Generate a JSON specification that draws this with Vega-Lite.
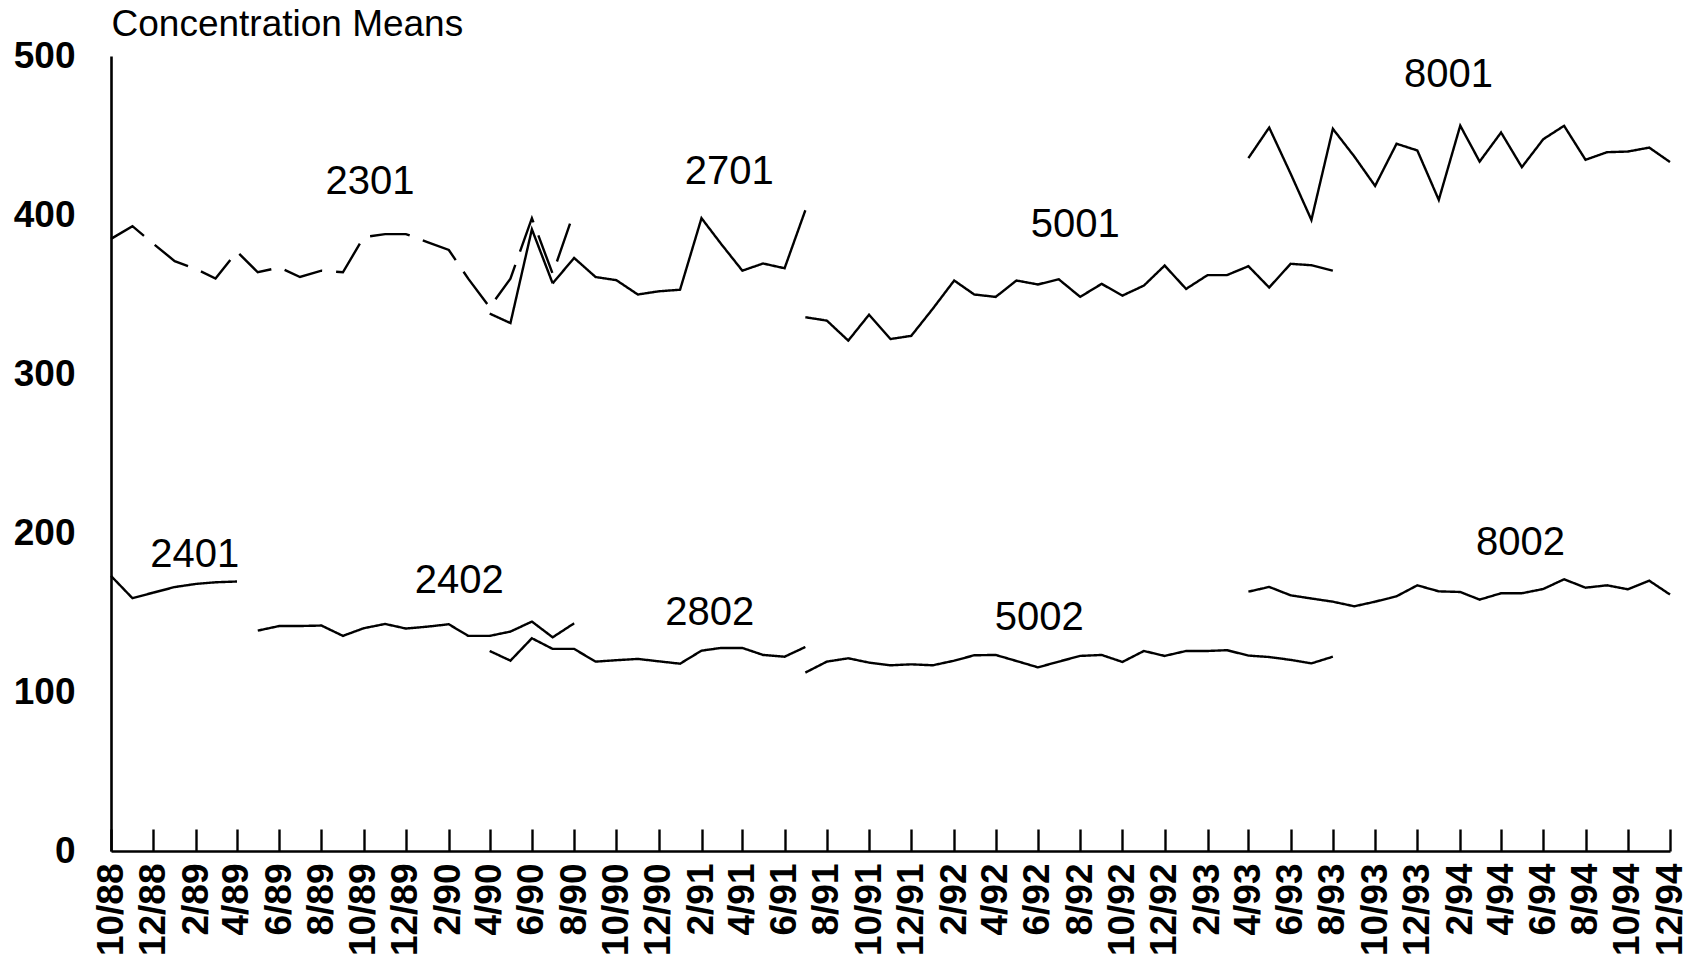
{
  "$schema": "https://vega.github.io/schema/vega-lite/v6.json",
  "width": 1559,
  "height": 795,
  "autosize": "none",
  "padding": {"left": 111, "top": 56, "right": 21, "bottom": 117},
  "background": "white",
  "config": {
    "view": {"stroke": null},
    "font": "Liberation Sans"
  },
  "layer": [
    {
      "data": {
        "values": [
          {"series": "2301", "date": "1988-10-01", "value": 385},
          {"series": "2301", "date": "1988-11-01", "value": 393},
          {"series": "2301", "date": "1988-12-01", "value": 382},
          {"series": "2301", "date": "1989-01-01", "value": 371},
          {"series": "2301", "date": "1989-02-01", "value": 366},
          {"series": "2301", "date": "1989-03-01", "value": 360},
          {"series": "2301", "date": "1989-04-01", "value": 377},
          {"series": "2301", "date": "1989-05-01", "value": 364},
          {"series": "2301", "date": "1989-06-01", "value": 367},
          {"series": "2301", "date": "1989-07-01", "value": 361},
          {"series": "2301", "date": "1989-08-01", "value": 365},
          {"series": "2301", "date": "1989-09-01", "value": 364},
          {"series": "2301", "date": "1989-10-01", "value": 386},
          {"series": "2301", "date": "1989-11-01", "value": 388},
          {"series": "2301", "date": "1989-12-01", "value": 388},
          {"series": "2301", "date": "1990-01-01", "value": 383},
          {"series": "2301", "date": "1990-02-01", "value": 378},
          {"series": "2301", "date": "1990-03-01", "value": 360},
          {"series": "2301", "date": "1990-04-01", "value": 342},
          {"series": "2301", "date": "1990-05-01", "value": 360},
          {"series": "2301", "date": "1990-06-01", "value": 398},
          {"series": "2301", "date": "1990-07-01", "value": 363},
          {"series": "2301", "date": "1990-08-01", "value": 402},

          {"series": "2401", "date": "1988-10-01", "value": 173},
          {"series": "2401", "date": "1988-11-01", "value": 159},
          {"series": "2401", "date": "1988-12-01", "value": 162.5},
          {"series": "2401", "date": "1989-01-01", "value": 166},
          {"series": "2401", "date": "1989-02-01", "value": 168},
          {"series": "2401", "date": "1989-03-01", "value": 169},
          {"series": "2401", "date": "1989-04-01", "value": 169.5},

          {"series": "2402", "date": "1989-05-01", "value": 138.6},
          {"series": "2402", "date": "1989-06-01", "value": 141.5},
          {"series": "2402", "date": "1989-07-01", "value": 141.5},
          {"series": "2402", "date": "1989-08-01", "value": 141.8},
          {"series": "2402", "date": "1989-09-01", "value": 135.3},
          {"series": "2402", "date": "1989-10-01", "value": 140.1},
          {"series": "2402", "date": "1989-11-01", "value": 142.8},
          {"series": "2402", "date": "1989-12-01", "value": 139.9},
          {"series": "2402", "date": "1990-01-01", "value": 141.1},
          {"series": "2402", "date": "1990-02-01", "value": 142.6},
          {"series": "2402", "date": "1990-03-01", "value": 135.3},
          {"series": "2402", "date": "1990-04-01", "value": 135.3},
          {"series": "2402", "date": "1990-05-01", "value": 138},
          {"series": "2402", "date": "1990-06-01", "value": 144.3},
          {"series": "2402", "date": "1990-07-01", "value": 134.4},
          {"series": "2402", "date": "1990-08-01", "value": 143.2},

          {"series": "2701", "date": "1990-04-01", "value": 338},
          {"series": "2701", "date": "1990-05-01", "value": 332},
          {"series": "2701", "date": "1990-06-01", "value": 391},
          {"series": "2701", "date": "1990-07-01", "value": 357},
          {"series": "2701", "date": "1990-08-01", "value": 373},
          {"series": "2701", "date": "1990-09-01", "value": 361},
          {"series": "2701", "date": "1990-10-01", "value": 359},
          {"series": "2701", "date": "1990-11-01", "value": 350},
          {"series": "2701", "date": "1990-12-01", "value": 352},
          {"series": "2701", "date": "1991-01-01", "value": 353},
          {"series": "2701", "date": "1991-02-01", "value": 398},
          {"series": "2701", "date": "1991-03-01", "value": 382},
          {"series": "2701", "date": "1991-04-01", "value": 365},
          {"series": "2701", "date": "1991-05-01", "value": 369.5},
          {"series": "2701", "date": "1991-06-01", "value": 366.5},
          {"series": "2701", "date": "1991-07-01", "value": 403},

          {"series": "2802", "date": "1990-04-01", "value": 125.8},
          {"series": "2802", "date": "1990-05-01", "value": 119.7},
          {"series": "2802", "date": "1990-06-01", "value": 133.8},
          {"series": "2802", "date": "1990-07-01", "value": 127.1},
          {"series": "2802", "date": "1990-08-01", "value": 127.1},
          {"series": "2802", "date": "1990-09-01", "value": 119.1},
          {"series": "2802", "date": "1990-10-01", "value": 120},
          {"series": "2802", "date": "1990-11-01", "value": 120.8},
          {"series": "2802", "date": "1990-12-01", "value": 119.3},
          {"series": "2802", "date": "1991-01-01", "value": 117.8},
          {"series": "2802", "date": "1991-02-01", "value": 126},
          {"series": "2802", "date": "1991-03-01", "value": 127.7},
          {"series": "2802", "date": "1991-04-01", "value": 127.7},
          {"series": "2802", "date": "1991-05-01", "value": 123.3},
          {"series": "2802", "date": "1991-06-01", "value": 122.2},
          {"series": "2802", "date": "1991-07-01", "value": 128.3},

          {"series": "5001", "date": "1991-07-01", "value": 335.7},
          {"series": "5001", "date": "1991-08-01", "value": 333.6},
          {"series": "5001", "date": "1991-09-01", "value": 321},
          {"series": "5001", "date": "1991-10-01", "value": 337.3},
          {"series": "5001", "date": "1991-11-01", "value": 322},
          {"series": "5001", "date": "1991-12-01", "value": 324},
          {"series": "5001", "date": "1992-01-01", "value": 341},
          {"series": "5001", "date": "1992-02-01", "value": 358.8},
          {"series": "5001", "date": "1992-03-01", "value": 350},
          {"series": "5001", "date": "1992-04-01", "value": 348.5},
          {"series": "5001", "date": "1992-05-01", "value": 358.8},
          {"series": "5001", "date": "1992-06-01", "value": 356.3},
          {"series": "5001", "date": "1992-07-01", "value": 359.6},
          {"series": "5001", "date": "1992-08-01", "value": 348.5},
          {"series": "5001", "date": "1992-09-01", "value": 356.7},
          {"series": "5001", "date": "1992-10-01", "value": 349.3},
          {"series": "5001", "date": "1992-11-01", "value": 355.6},
          {"series": "5001", "date": "1992-12-01", "value": 368.2},
          {"series": "5001", "date": "1993-01-01", "value": 353.5},
          {"series": "5001", "date": "1993-02-01", "value": 362.2},
          {"series": "5001", "date": "1993-03-01", "value": 362.2},
          {"series": "5001", "date": "1993-04-01", "value": 367.8},
          {"series": "5001", "date": "1993-05-01", "value": 354.4},
          {"series": "5001", "date": "1993-06-01", "value": 369.3},
          {"series": "5001", "date": "1993-07-01", "value": 368.4},
          {"series": "5001", "date": "1993-08-01", "value": 365},

          {"series": "5002", "date": "1991-07-01", "value": 112.2},
          {"series": "5002", "date": "1991-08-01", "value": 119.1},
          {"series": "5002", "date": "1991-09-01", "value": 121.2},
          {"series": "5002", "date": "1991-10-01", "value": 118.5},
          {"series": "5002", "date": "1991-11-01", "value": 116.8},
          {"series": "5002", "date": "1991-12-01", "value": 117.4},
          {"series": "5002", "date": "1992-01-01", "value": 116.8},
          {"series": "5002", "date": "1992-02-01", "value": 119.7},
          {"series": "5002", "date": "1992-03-01", "value": 123.1},
          {"series": "5002", "date": "1992-04-01", "value": 123.3},
          {"series": "5002", "date": "1992-05-01", "value": 119.5},
          {"series": "5002", "date": "1992-06-01", "value": 115.5},
          {"series": "5002", "date": "1992-07-01", "value": 119.1},
          {"series": "5002", "date": "1992-08-01", "value": 122.7},
          {"series": "5002", "date": "1992-09-01", "value": 123.3},
          {"series": "5002", "date": "1992-10-01", "value": 118.9},
          {"series": "5002", "date": "1992-11-01", "value": 125.8},
          {"series": "5002", "date": "1992-12-01", "value": 122.7},
          {"series": "5002", "date": "1993-01-01", "value": 125.8},
          {"series": "5002", "date": "1993-02-01", "value": 125.8},
          {"series": "5002", "date": "1993-03-01", "value": 126.3},
          {"series": "5002", "date": "1993-04-01", "value": 122.9},
          {"series": "5002", "date": "1993-05-01", "value": 122},
          {"series": "5002", "date": "1993-06-01", "value": 120.2},
          {"series": "5002", "date": "1993-07-01", "value": 118},
          {"series": "5002", "date": "1993-08-01", "value": 122.2},

          {"series": "8001", "date": "1993-04-01", "value": 435.8},
          {"series": "8001", "date": "1993-05-01", "value": 455},
          {"series": "8001", "date": "1993-06-01", "value": 426},
          {"series": "8001", "date": "1993-07-01", "value": 396.9},
          {"series": "8001", "date": "1993-08-01", "value": 454.2},
          {"series": "8001", "date": "1993-09-01", "value": 436.8},
          {"series": "8001", "date": "1993-10-01", "value": 418.3},
          {"series": "8001", "date": "1993-11-01", "value": 444.8},
          {"series": "8001", "date": "1993-12-01", "value": 440.6},
          {"series": "8001", "date": "1994-01-01", "value": 409.5},
          {"series": "8001", "date": "1994-02-01", "value": 456.2},
          {"series": "8001", "date": "1994-03-01", "value": 433.6},
          {"series": "8001", "date": "1994-04-01", "value": 451.9},
          {"series": "8001", "date": "1994-05-01", "value": 430.1},
          {"series": "8001", "date": "1994-06-01", "value": 447.7},
          {"series": "8001", "date": "1994-07-01", "value": 456.1},
          {"series": "8001", "date": "1994-08-01", "value": 434.7},
          {"series": "8001", "date": "1994-09-01", "value": 439.5},
          {"series": "8001", "date": "1994-10-01", "value": 439.9},
          {"series": "8001", "date": "1994-11-01", "value": 442.4},
          {"series": "8001", "date": "1994-12-01", "value": 433.3},

          {"series": "8002", "date": "1993-04-01", "value": 163.1},
          {"series": "8002", "date": "1993-05-01", "value": 166.1},
          {"series": "8002", "date": "1993-06-01", "value": 160.8},
          {"series": "8002", "date": "1993-07-01", "value": 158.8},
          {"series": "8002", "date": "1993-08-01", "value": 156.8},
          {"series": "8002", "date": "1993-09-01", "value": 153.9},
          {"series": "8002", "date": "1993-10-01", "value": 156.8},
          {"series": "8002", "date": "1993-11-01", "value": 160.2},
          {"series": "8002", "date": "1993-12-01", "value": 167.1},
          {"series": "8002", "date": "1994-01-01", "value": 163.3},
          {"series": "8002", "date": "1994-02-01", "value": 162.9},
          {"series": "8002", "date": "1994-03-01", "value": 158.1},
          {"series": "8002", "date": "1994-04-01", "value": 162.1},
          {"series": "8002", "date": "1994-05-01", "value": 162.1},
          {"series": "8002", "date": "1994-06-01", "value": 164.8},
          {"series": "8002", "date": "1994-07-01", "value": 170.9},
          {"series": "8002", "date": "1994-08-01", "value": 165.6},
          {"series": "8002", "date": "1994-09-01", "value": 167.1},
          {"series": "8002", "date": "1994-10-01", "value": 164.6},
          {"series": "8002", "date": "1994-11-01", "value": 170},
          {"series": "8002", "date": "1994-12-01", "value": 161.3}
        ]
      },
      "mark": {"type": "line", "color": "black", "strokeWidth": 2.4, "strokeJoin": "miter", "strokeCap": "butt", "clip": false},
      "encoding": {
        "x": {
          "field": "date",
          "type": "temporal",
          "scale": {
            "type": "utc",
            "domain": [
              {"year": 1988, "month": 10, "date": 1, "utc": true},
              {"year": 1994, "month": 12, "date": 1, "utc": true}
            ]
          },
          "axis": {
            "title": null,
            "format": "%-m/%y",
            "labelAngle": -90,
            "labelAlign": "right",
            "labelBaseline": "middle",
            "labelFontSize": 37,
            "labelFontWeight": "bold",
            "labelColor": "black",
            "labelPadding": 34,
            "labelOverlap": false,
            "labelFlush": false,
            "tickSize": -22,
            "tickWidth": 2.4,
            "tickColor": "black",
            "domainColor": "black",
            "domainWidth": 2.6,
            "grid": false,
            "values": [
              {"year": 1988, "month": 10, "date": 1, "utc": true},
              {"year": 1988, "month": 12, "date": 1, "utc": true},
              {"year": 1989, "month": 2, "date": 1, "utc": true},
              {"year": 1989, "month": 4, "date": 1, "utc": true},
              {"year": 1989, "month": 6, "date": 1, "utc": true},
              {"year": 1989, "month": 8, "date": 1, "utc": true},
              {"year": 1989, "month": 10, "date": 1, "utc": true},
              {"year": 1989, "month": 12, "date": 1, "utc": true},
              {"year": 1990, "month": 2, "date": 1, "utc": true},
              {"year": 1990, "month": 4, "date": 1, "utc": true},
              {"year": 1990, "month": 6, "date": 1, "utc": true},
              {"year": 1990, "month": 8, "date": 1, "utc": true},
              {"year": 1990, "month": 10, "date": 1, "utc": true},
              {"year": 1990, "month": 12, "date": 1, "utc": true},
              {"year": 1991, "month": 2, "date": 1, "utc": true},
              {"year": 1991, "month": 4, "date": 1, "utc": true},
              {"year": 1991, "month": 6, "date": 1, "utc": true},
              {"year": 1991, "month": 8, "date": 1, "utc": true},
              {"year": 1991, "month": 10, "date": 1, "utc": true},
              {"year": 1991, "month": 12, "date": 1, "utc": true},
              {"year": 1992, "month": 2, "date": 1, "utc": true},
              {"year": 1992, "month": 4, "date": 1, "utc": true},
              {"year": 1992, "month": 6, "date": 1, "utc": true},
              {"year": 1992, "month": 8, "date": 1, "utc": true},
              {"year": 1992, "month": 10, "date": 1, "utc": true},
              {"year": 1992, "month": 12, "date": 1, "utc": true},
              {"year": 1993, "month": 2, "date": 1, "utc": true},
              {"year": 1993, "month": 4, "date": 1, "utc": true},
              {"year": 1993, "month": 6, "date": 1, "utc": true},
              {"year": 1993, "month": 8, "date": 1, "utc": true},
              {"year": 1993, "month": 10, "date": 1, "utc": true},
              {"year": 1993, "month": 12, "date": 1, "utc": true},
              {"year": 1994, "month": 2, "date": 1, "utc": true},
              {"year": 1994, "month": 4, "date": 1, "utc": true},
              {"year": 1994, "month": 6, "date": 1, "utc": true},
              {"year": 1994, "month": 8, "date": 1, "utc": true},
              {"year": 1994, "month": 10, "date": 1, "utc": true},
              {"year": 1994, "month": 12, "date": 1, "utc": true}
            ]
          }
        },
        "y": {
          "field": "value",
          "type": "quantitative",
          "scale": {"domain": [0, 500], "nice": false, "zero": true},
          "axis": {
            "title": "Concentration Means",
            "titleAngle": 0,
            "titleAlign": "left",
            "titleBaseline": "alphabetic",
            "titleX": 0,
            "titleY": -21,
            "titleFontSize": 37,
            "titleFontWeight": "normal",
            "titleColor": "black",
            "values": [0, 100, 200, 300, 400, 500],
            "labelFontSize": 37,
            "labelFontWeight": "bold",
            "labelColor": "black",
            "labelPadding": 36,
            "labelFlush": false,
            "labelOverlap": false,
            "ticks": false,
            "domainColor": "black",
            "domainWidth": 2.6,
            "grid": false
          }
        },
        "detail": {"field": "series", "type": "nominal"},
        "strokeDash": {
          "field": "series",
          "type": "nominal",
          "legend": null,
          "scale": {
            "domain": ["2301", "2401", "2402", "2701", "2802", "5001", "5002", "8001", "8002"],
            "range": [[40, 14], [1, 0], [1, 0], [1, 0], [1, 0], [1, 0], [1, 0], [1, 0], [1, 0]]
          }
        }
      }
    },
    {
      "data": {
        "values": [
          {"label": "2301", "date": "1989-10-10", "value": 421},
          {"label": "2701", "date": "1991-03-13", "value": 427},
          {"label": "8001", "date": "1994-01-15", "value": 488},
          {"label": "5001", "date": "1992-07-25", "value": 394},
          {"label": "2401", "date": "1989-01-30", "value": 186},
          {"label": "2402", "date": "1990-02-16", "value": 170},
          {"label": "2802", "date": "1991-02-13", "value": 150},
          {"label": "5002", "date": "1992-06-03", "value": 146.5},
          {"label": "8002", "date": "1994-04-29", "value": 193.5}
        ]
      },
      "mark": {"type": "text", "fontSize": 40, "color": "black", "align": "center", "baseline": "middle"},
      "encoding": {
        "x": {"field": "date", "type": "temporal"},
        "y": {"field": "value", "type": "quantitative"},
        "text": {"field": "label", "type": "nominal"}
      }
    }
  ]
}
